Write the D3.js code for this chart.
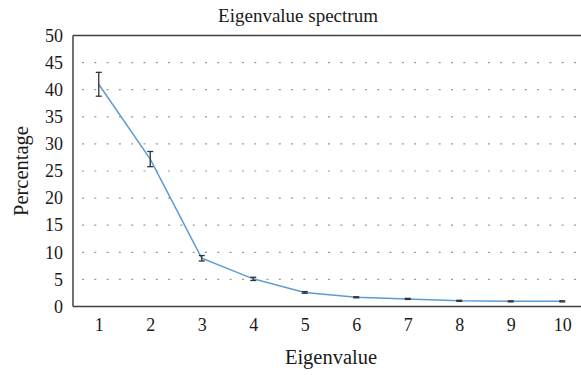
<!DOCTYPE html>
<html><head><meta charset="utf-8">
<script src="https://cdn.jsdelivr.net/npm/d3@7"></script>
<style>body{margin:0;background:#fff}svg{display:block}text{font-family:"Liberation Serif","DejaVu Serif",serif;fill:#1a1a1a}</style>
</head><body>
<svg id="c" width="581" height="375"></svg>
<script>
const categories = [1,2,3,4,5,6,7,8,9,10];
const values = [41.0, 27.2, 8.9, 5.1, 2.6, 1.7, 1.4, 1.05, 0.95, 0.95];
const errors = [2.2, 1.4, 0.5, 0.3, 0.15, 0.1, 0.1, 0.1, 0.1, 0.1];
const yTicks = [0,5,10,15,20,25,30,35,40,45,50];

const svg = d3.select("#c");
const m = {l:73, t:35.5, b:306.5};
const x = d3.scaleLinear().domain([0.5,10.5]).range([m.l, m.l + 10*51.5]);
const y = d3.scaleLinear().domain([0,50]).range([m.b, m.t]);

// gridlines
svg.append("g").selectAll("line").data(yTicks.filter(d=>d>0&&d<50)).join("line")
  .attr("x1", m.l+9).attr("x2", 581).attr("y1", d=>y(d)).attr("y2", d=>y(d))
  .attr("stroke","#999").attr("stroke-width",1.2).attr("stroke-dasharray","2,10.3");

// top border
svg.append("line").attr("x1",m.l).attr("x2",581).attr("y1",m.t).attr("y2",m.t).attr("stroke","#404040").attr("stroke-width",1.5);

// axes
const ya = d3.axisLeft(y).tickValues(yTicks).tickSize(0).tickPadding(10);
const gy = svg.append("g").attr("transform",`translate(${m.l},0)`).call(ya);
gy.select(".domain").remove();
gy.selectAll("text").style("font-size","18px").attr("fill","#1a1a1a");
svg.append("line").attr("x1",m.l).attr("x2",m.l).attr("y1",m.t).attr("y2",m.b).attr("stroke","#404040").attr("stroke-width",1.5);

const xa = d3.axisBottom(x).tickValues(categories).tickSize(0).tickPadding(12).tickFormat(d3.format("d"));
const gx = svg.append("g").attr("transform",`translate(0,${m.b})`).call(xa);
gx.select(".domain").remove();
gx.selectAll("text").style("font-size","18px").attr("fill","#1a1a1a");
svg.append("line").attr("x1",m.l).attr("x2",581).attr("y1",m.b).attr("y2",m.b).attr("stroke","#404040").attr("stroke-width",1.5);

// line
const data = categories.map((c,i)=>({c, v:values[i], e:errors[i]}));
svg.append("path").datum(data).attr("fill","none").attr("stroke","#5b9bd5").attr("stroke-width",1.5)
  .attr("d", d3.line().x(d=>x(d.c)).y(d=>y(d.v)));

// error bars
const eb = svg.append("g").attr("stroke","#333").attr("stroke-width",1.3);
data.forEach(d=>{
  eb.append("line").attr("x1",x(d.c)).attr("x2",x(d.c)).attr("y1",y(d.v-d.e)).attr("y2",y(d.v+d.e));
  eb.append("line").attr("x1",x(d.c)-3).attr("x2",x(d.c)+3).attr("y1",y(d.v-d.e)).attr("y2",y(d.v-d.e));
  eb.append("line").attr("x1",x(d.c)-3).attr("x2",x(d.c)+3).attr("y1",y(d.v+d.e)).attr("y2",y(d.v+d.e));
});

// titles
svg.append("text").attr("x",298).attr("y",22).attr("text-anchor","middle").style("font-size","19px").text("Eigenvalue spectrum");
svg.append("text").attr("x",331).attr("y",364).attr("text-anchor","middle").style("font-size","20.5px").text("Eigenvalue");
svg.append("text").attr("transform","translate(28,171) rotate(-90)").attr("text-anchor","middle").style("font-size","20.5px").text("Percentage");
</script>
</body></html>
